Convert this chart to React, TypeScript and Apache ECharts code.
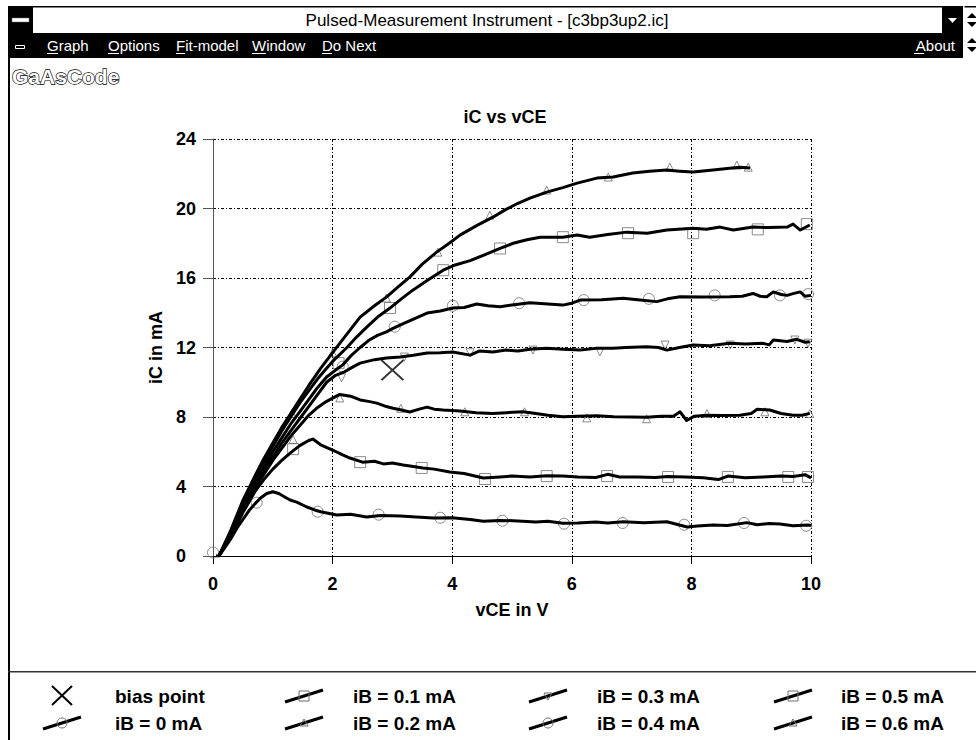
import React, { useEffect, useRef } from "react";
import * as echarts from "echarts";

// ---------- data ----------
const xMin = 0, xMax = 10, xStep = 2;
const yMin = 0, yMax = 24, yStep = 4;
const chartTitle = "iC vs vCE";
const xName = "vCE in V";
const yName = "iC in mA";
const windowTitle = "Pulsed-Measurement Instrument - [c3bp3up2.ic]";
const menuItems = ["Graph", "Options", "Fit-model", "Window", "Do Next"];
const menuRight = "About";
const logoText = "GaAsCode";

const seriesNames = ["iB = 0 mA", "iB = 0.1 mA", "iB = 0.2 mA", "iB = 0.3 mA", "iB = 0.4 mA", "iB = 0.5 mA", "iB = 0.6 mA"];
const seriesSymbols = ["circle", "rect", "triangle", "triangleDown", "circle", "rect", "triangle"];
const biasName = "bias point";
const biasPoint: [number, number][] = [[3.0, 10.7]];

const ib0Line: [number, number][] = [[0.05,0],[0.1,0],[0.2,0.5],[0.3,1.0],[0.4,1.6],[0.5,2.1],[0.6,2.6],[0.7,3.0],[0.8,3.35],[0.9,3.6],[1.0,3.7],[1.1,3.6],[1.2,3.4],[1.29,3.22],[1.4,3.1],[1.57,2.82],[1.7,2.65],[1.8,2.55],[2.07,2.36],[2.3,2.4],[2.57,2.25],[2.8,2.33],[3.13,2.3],[3.4,2.25],[3.68,2.19],[4.0,2.2],[4.3,2.1],[4.52,2.0],[4.8,2.05],[5.1,2.02],[5.4,1.95],[5.6,2.0],[5.85,1.88],[6.1,1.9],[6.4,1.95],[6.6,1.9],[6.86,1.97],[7.2,1.92],[7.59,1.97],[7.93,1.67],[8.1,1.72],[8.36,1.78],[8.6,1.75],[8.93,1.92],[9.1,1.8],[9.3,1.87],[9.48,1.84],[9.7,1.74],[9.95,1.78],[10,1.75]];
const ib0Marks: [number, number][] = [[0,0.2],[0.73,3.07],[1.75,2.55],[2.77,2.38],[3.8,2.2],[4.84,2.03],[5.87,1.86],[6.85,1.9],[7.88,1.8],[8.88,1.9],[9.92,1.74]];

const ib1Line: [number, number][] = [[0.1,0],[0.3,1.1],[0.5,2.5],[0.7,3.7],[0.85,4.4],[1.0,5.0],[1.15,5.5],[1.3,5.95],[1.45,6.35],[1.6,6.65],[1.67,6.73],[1.8,6.4],[2.0,6.1],[2.15,5.85],[2.29,5.64],[2.5,5.4],[2.7,5.45],[2.85,5.3],[3.0,5.35],[3.18,5.24],[3.35,5.15],[3.51,5.06],[3.7,5.0],[3.96,4.83],[4.2,4.75],[4.52,4.49],[4.8,4.55],[5.0,4.6],[5.3,4.55],[5.58,4.62],[5.85,4.6],[6.1,4.55],[6.4,4.52],[6.6,4.7],[6.8,4.55],[7.1,4.55],[7.4,4.52],[7.6,4.58],[7.9,4.55],[8.2,4.5],[8.45,4.4],[8.61,4.6],[8.9,4.5],[9.2,4.55],[9.5,4.6],[9.7,4.58],[9.9,4.68],[10,4.5]];
const ib1Marks: [number, number][] = [[1.34,6.15],[2.46,5.4],[3.49,5.07],[4.55,4.43],[5.58,4.6],[6.59,4.6],[7.61,4.55],[8.61,4.55],[9.62,4.55],[9.95,4.55]];

const ib2Line: [number, number][] = [[0.1,0],[0.3,1.2],[0.5,2.7],[0.7,3.9],[0.85,4.7],[1.0,5.5],[1.15,6.2],[1.3,6.9],[1.45,7.5],[1.6,8.1],[1.75,8.55],[1.9,8.9],[2.12,9.3],[2.3,9.2],[2.46,8.98],[2.6,8.9],[2.74,8.8],[2.9,8.6],[3.01,8.5],[3.15,8.4],[3.29,8.29],[3.45,8.45],[3.58,8.57],[3.7,8.45],[3.85,8.4],[4.13,8.34],[4.4,8.25],[4.68,8.2],[4.9,8.25],[5.18,8.3],[5.4,8.2],[5.6,8.1],[5.85,8.01],[6.1,8.05],[6.42,8.07],[6.7,8.02],[7.0,8.0],[7.25,7.98],[7.5,8.05],[7.7,8.05],[7.81,8.3],[7.92,7.8],[8.05,8.05],[8.26,8.1],[8.5,8.08],[8.81,8.1],[9.0,8.2],[9.1,8.44],[9.31,8.4],[9.5,8.2],[9.7,8.1],[9.85,8.1],[9.98,8.21]];
const ib2Marks: [number, number][] = [[1.34,6.7],[2.12,9.1],[3.14,8.5],[4.21,8.3],[5.21,8.3],[6.25,7.95],[7.25,7.9],[8.26,8.2],[9.23,8.3],[9.98,8.2]];

const ib3Line: [number, number][] = [[0.1,0],[0.3,1.3],[0.5,2.8],[0.7,4.0],[0.85,4.9],[1.0,5.7],[1.15,6.5],[1.3,7.2],[1.45,7.9],[1.6,8.6],[1.75,9.3],[1.9,10.0],[2.05,10.4],[2.2,10.6],[2.35,10.9],[2.46,11.1],[2.7,11.3],[2.9,11.4],[3.13,11.45],[3.35,11.55],[3.58,11.68],[3.8,11.7],[4.01,11.74],[4.3,11.56],[4.46,11.8],[4.68,11.74],[4.9,11.85],[5.1,11.8],[5.3,11.9],[5.58,11.95],[5.85,11.9],[6.14,11.85],[6.4,11.95],[6.69,11.95],[6.9,12.0],[7.25,12.04],[7.45,12.0],[7.59,11.85],[7.8,12.0],[8.03,12.14],[8.3,12.1],[8.64,12.24],[8.9,12.2],[9.2,12.24],[9.3,12.15],[9.37,12.43],[9.6,12.35],[9.76,12.47],[9.9,12.3],[9.98,12.33]];
const ib3Marks: [number, number][] = [[2.15,10.25],[3.2,11.45],[4.3,11.7],[5.35,11.85],[6.47,11.75],[7.56,12.14],[8.65,12.14],[9.73,12.43],[9.95,12.25]];

const ib4Line: [number, number][] = [[0.1,0],[0.3,1.3],[0.5,2.9],[0.7,4.2],[0.85,5.1],[1.0,6.0],[1.15,6.8],[1.3,7.6],[1.45,8.3],[1.6,9.0],[1.75,9.7],[1.9,10.3],[2.05,10.7],[2.17,11.0],[2.3,11.5],[2.46,12.0],[2.6,12.4],[2.75,12.7],[2.9,12.9],[3.01,13.1],[3.2,13.4],[3.4,13.7],[3.58,13.98],[3.8,14.1],[4.01,14.27],[4.2,14.3],[4.41,14.5],[4.6,14.4],[4.8,14.35],[5.0,14.45],[5.3,14.58],[5.6,14.5],[5.85,14.44],[6.0,14.55],[6.14,14.73],[6.5,14.75],[6.86,14.83],[7.1,14.75],[7.42,14.64],[7.6,14.8],[7.81,14.92],[8.2,14.9],[8.64,14.92],[8.85,14.95],[9.03,15.11],[9.15,14.95],[9.26,14.92],[9.37,15.2],[9.5,15.05],[9.6,15.0],[9.7,15.1],[9.82,15.2],[9.9,14.95],[10,15.0]];
const ib4Marks: [number, number][] = [[2.17,10.9],[3.04,13.2],[4.01,14.4],[5.12,14.55],[6.2,14.73],[7.29,14.8],[8.39,15.0],[9.48,15.0],[9.95,15.07]];

const ib5Line: [number, number][] = [[0.1,0],[0.3,1.4],[0.5,3.0],[0.7,4.4],[0.85,5.4],[1.0,6.3],[1.15,7.2],[1.3,8.0],[1.45,8.8],[1.6,9.5],[1.75,10.2],[1.9,10.8],[2.0,11.2],[2.24,12.0],[2.4,12.6],[2.58,13.2],[2.77,13.8],[2.96,14.27],[3.15,14.8],[3.34,15.3],[3.6,15.9],[3.85,16.45],[4.05,16.75],[4.3,17.0],[4.55,17.35],[4.8,17.7],[5.02,18.0],[5.25,18.2],[5.47,18.35],[5.85,18.35],[6.09,18.47],[6.3,18.35],[6.6,18.5],[6.92,18.64],[7.26,18.58],[7.59,18.76],[8.03,18.87],[8.25,18.8],[8.48,18.93],[8.7,18.76],[9.03,18.93],[9.3,18.9],[9.6,18.93],[9.7,19.1],[9.82,18.76],[9.98,19.05]];
const ib5Marks: [number, number][] = [[2.1,11.1],[2.96,14.27],[3.85,16.45],[4.8,17.7],[5.85,18.35],[6.94,18.58],[8.03,18.58],[9.11,18.8],[9.93,19.1]];

const ib6Line: [number, number][] = [[0.1,0],[0.3,1.5],[0.5,3.2],[0.7,4.6],[0.85,5.6],[1.0,6.5],[1.15,7.4],[1.3,8.2],[1.45,9.0],[1.6,9.8],[1.8,10.8],[2.0,11.7],[2.2,12.6],[2.46,13.75],[2.7,14.4],[2.9,14.9],[3.1,15.5],[3.29,16.05],[3.5,16.8],[3.74,17.49],[3.95,18.0],[4.13,18.47],[4.4,19.0],[4.68,19.5],[4.9,19.95],[5.1,20.3],[5.3,20.6],[5.58,20.94],[5.85,21.2],[6.09,21.46],[6.42,21.75],[6.69,21.81],[7.02,22.04],[7.3,22.15],[7.59,22.21],[7.8,22.15],[8.03,22.1],[8.36,22.21],[8.6,22.3],[8.81,22.38],[8.98,22.33]];
const ib6Marks: [number, number][] = [[1.32,8.2],[2.0,11.7],[2.9,14.85],[3.76,17.49],[4.63,19.62],[5.58,21.06],[6.61,21.81],[7.64,22.38],[8.76,22.5],[8.95,22.38]];

const lines = [ib0Line, ib1Line, ib2Line, ib3Line, ib4Line, ib5Line, ib6Line];
const marks = [ib0Marks, ib1Marks, ib2Marks, ib3Marks, ib4Marks, ib5Marks, ib6Marks];

// ---------- styles ----------
const FONT = "'Liberation Sans', Arial, Helvetica, sans-serif";
const MARK_GRAY = "#6e6e6e";

function markerGraphic(sym: string, cx: number, cy: number): any {
  const style = { fill: "none", stroke: MARK_GRAY, lineWidth: 1 };
  if (sym === "circle") return { type: "circle", shape: { cx, cy, r: 5 }, style };
  if (sym === "rect") return { type: "rect", shape: { x: cx - 5, y: cy - 5, width: 10, height: 10 }, style };
  if (sym === "triangle") return { type: "polygon", shape: { points: [[cx - 4, cy + 3], [cx + 4, cy + 3], [cx, cy - 4]] }, style };
  return { type: "polygon", shape: { points: [[cx - 4, cy - 3], [cx + 4, cy - 3], [cx, cy + 4]] }, style };
}

function buildLegend(): any[] {
  const els: any[] = [];
  const iconX = [62, 304, 548, 793];
  const textX = [115, 353, 597, 841];
  const rowY = [696, 723];
  els.push({ type: "line", shape: { x1: iconX[0] - 10, y1: rowY[0] - 10, x2: iconX[0] + 10, y2: rowY[0] + 9 }, style: { stroke: "#000", lineWidth: 2 } });
  els.push({ type: "line", shape: { x1: iconX[0] + 10, y1: rowY[0] - 10, x2: iconX[0] - 10, y2: rowY[0] + 9 }, style: { stroke: "#000", lineWidth: 2 } });
  els.push({ type: "text", x: textX[0], y: rowY[0], style: { text: biasName, font: `bold 19px ${FONT}`, fill: "#000", verticalAlign: "middle" } });
  seriesNames.forEach((name, i) => {
    const slot = i + 1;
    const col = Math.floor(slot / 2);
    const row = slot % 2;
    const cx = iconX[col];
    const cy = rowY[row];
    els.push({ type: "line", shape: { x1: cx - 19, y1: cy + 6, x2: cx + 19, y2: cy - 6 }, style: { stroke: "#000", lineWidth: 3 } });
    els.push(markerGraphic(seriesSymbols[i], cx, cy));
    els.push({ type: "text", x: textX[col], y: cy, style: { text: name, font: `bold 19px ${FONT}`, fill: "#000", verticalAlign: "middle" } });
  });
  return els;
}

function buildChrome(): any[] {
  const els: any[] = [];
  const menuFont = `15px ${FONT}`;
  // title bar
  els.push({ type: "rect", shape: { x: 8, y: 6, width: 968, height: 27 }, style: { fill: "#fff" } });
  els.push({ type: "rect", shape: { x: 8, y: 6, width: 968, height: 1.5 }, style: { fill: "#000" } });
  els.push({ type: "rect", shape: { x: 8, y: 6, width: 25, height: 27 }, style: { fill: "#000" } });
  els.push({ type: "rect", shape: { x: 12, y: 18, width: 17, height: 4 }, style: { fill: "#fff", stroke: "#777", lineWidth: 0.5 } });
  els.push({ type: "text", x: 487, y: 20, style: { text: windowTitle, font: `17px ${FONT}`, fill: "#000", align: "center", verticalAlign: "middle" } });
  els.push({ type: "rect", shape: { x: 942, y: 6, width: 21, height: 27 }, style: { fill: "#000" } });
  els.push({ type: "polygon", shape: { points: [[948, 18], [957, 18], [952.5, 23]] }, style: { fill: "#fff" } });
  els.push({ type: "rect", shape: { x: 963, y: 6, width: 1.5, height: 52 }, style: { fill: "#fff" } });
  // menu bar
  els.push({ type: "rect", shape: { x: 8, y: 33, width: 955, height: 25 }, style: { fill: "#000" } });
  els.push({ type: "rect", shape: { x: 15.5, y: 45.5, width: 9, height: 3 }, style: { fill: "none", stroke: "#fff", lineWidth: 1 } });
  const menuX = [47, 108, 176, 252, 322];
  const ulW = [11, 11, 9, 14, 10];
  menuItems.forEach((m, i) => {
    els.push({ type: "text", x: menuX[i], y: 45, style: { text: m, font: menuFont, fill: "#fff", verticalAlign: "middle" } });
    els.push({ type: "rect", shape: { x: menuX[i], y: 53, width: ulW[i], height: 1 }, style: { fill: "#fff" } });
  });
  els.push({ type: "text", x: 955, y: 45, style: { text: menuRight, font: menuFont, fill: "#fff", align: "right", verticalAlign: "middle" } });
  els.push({ type: "rect", shape: { x: 914, y: 53, width: 10, height: 1 }, style: { fill: "#fff" } });
  [[20], [45]].forEach(([cy]) => {
    els.push({ type: "polygon", shape: { points: [[967, cy - 2], [972, cy - 7], [977, cy - 2]] }, style: { fill: "#000" } });
    els.push({ type: "polygon", shape: { points: [[967, cy + 2], [972, cy + 7], [977, cy + 2]] }, style: { fill: "#000" } });
  });
  // window left border
  els.push({ type: "rect", shape: { x: 8, y: 6, width: 2, height: 734 }, style: { fill: "#000" } });
  // logo
  els.push({ type: "text", x: 12, y: 76, style: { text: logoText, font: `bold 21px ${FONT}`, fill: "#fff", stroke: "#000", lineWidth: 1.3, verticalAlign: "middle" } });
  // legend separator
  els.push({ type: "rect", shape: { x: 8, y: 671, width: 968, height: 1.5 }, style: { fill: "#333" } });
  // chart title
  els.push({ type: "text", x: 505, y: 117, style: { text: chartTitle, font: `bold 18px ${FONT}`, fill: "#000", align: "center", verticalAlign: "middle" } });
  return els;
}

export default function App() {
  const ref = useRef<HTMLDivElement>(null);
  useEffect(() => {
    if (!ref.current) return;
    const chart = echarts.init(ref.current, undefined, { renderer: "svg" });
    const gridLine = { show: true, lineStyle: { color: "#000", width: 1, type: [3, 2, 1, 2] as any } };
    const markSeries = marks.map((m, i) => ({
      type: "scatter",
      name: seriesNames[i] + " model",
      data: m,
      symbol: seriesSymbols[i] === "triangleDown" ? "triangle" : seriesSymbols[i],
      symbolRotate: seriesSymbols[i] === "triangleDown" ? 180 : 0,
      symbolSize: seriesSymbols[i] === "triangle" || seriesSymbols[i] === "triangleDown" ? 8 : 11,
      itemStyle: { color: "rgba(0,0,0,0)", borderColor: MARK_GRAY, borderWidth: 1 },
      z: 2,
      silent: true,
    }));
    const lineSeries = lines.map((l, i) => ({
      type: "line",
      name: seriesNames[i],
      data: l,
      symbol: "none",
      showSymbol: false,
      lineStyle: { color: "#000", width: 3, join: "round" },
      z: 3,
      silent: true,
    }));
    const option: any = {
      animation: false,
      backgroundColor: "#fff",
      textStyle: { fontFamily: FONT },
      grid: { left: 213, top: 139, width: 598, height: 417, containLabel: false },
      xAxis: {
        type: "value", min: xMin, max: xMax, interval: xStep,
        name: xName, nameLocation: "middle", nameGap: 45,
        nameTextStyle: { fontSize: 18, fontWeight: "bold", color: "#000", fontFamily: FONT },
        axisLine: { show: true, onZero: false, lineStyle: { color: "#000", width: 1 } },
        axisTick: { show: true, length: 8, lineStyle: { color: "#000" } },
        axisLabel: { fontSize: 18, fontWeight: "bold", color: "#000", margin: 19, fontFamily: FONT },
        splitLine: gridLine,
      },
      yAxis: {
        type: "value", min: yMin, max: yMax, interval: yStep,
        name: yName, nameLocation: "middle", nameGap: 47, nameRotate: 90,
        nameTextStyle: { fontSize: 18, fontWeight: "bold", color: "#000", fontFamily: FONT },
        axisLine: { show: true, onZero: false, lineStyle: { color: "#555", width: 1 } },
        axisTick: { show: true, length: 10, lineStyle: { color: "#555" } },
        axisLabel: { fontSize: 18, fontWeight: "bold", color: "#000", margin: 37, align: "left", fontFamily: FONT },
        splitLine: gridLine,
      },
      series: [
        ...markSeries,
        ...lineSeries,
        {
          type: "scatter",
          name: biasName,
          data: biasPoint,
          symbol: "path://M0,0L10,10M10,0L0,10",
          symbolSize: [22, 20],
          itemStyle: { color: "rgba(0,0,0,0)", borderColor: "#000", borderWidth: 2 },
          z: 4,
          silent: true,
        },
      ],
      graphic: [...buildChrome(), ...buildLegend()],
    };
    chart.setOption(option);
    return () => chart.dispose();
  }, []);
  return <div ref={ref} style={{ position: "fixed", left: 0, top: 0, width: 976, height: 740 }} />;
}
